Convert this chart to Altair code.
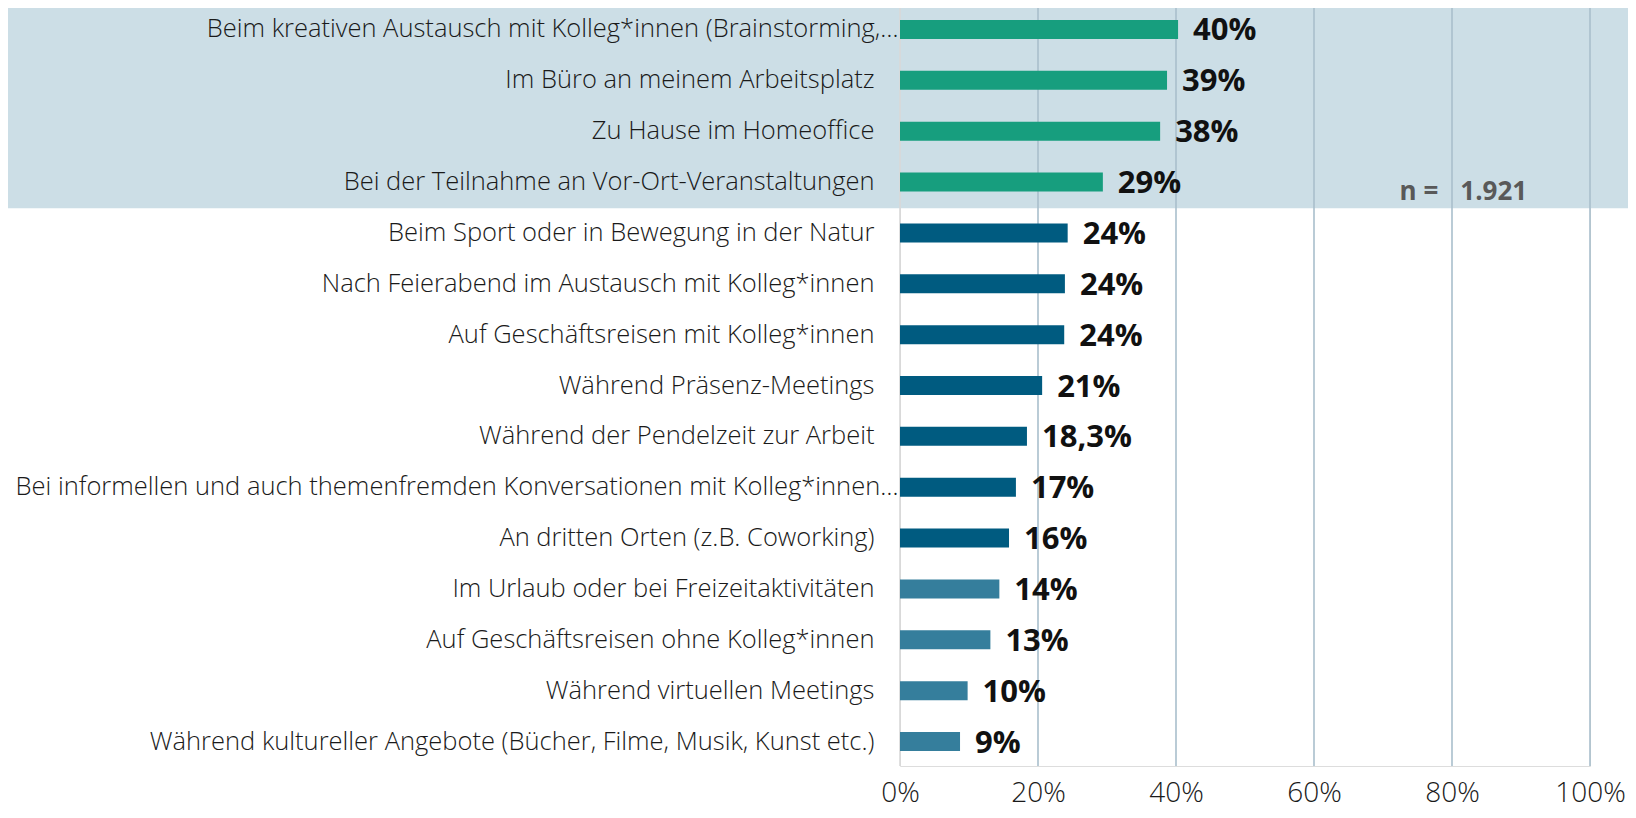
import altair as alt
import pandas as pd

categories = [
    "Beim kreativen Austausch mit Kolleg*innen (Brainstorming,…",
    "Im Büro an meinem Arbeitsplatz",
    "Zu Hause im Homeoffice",
    "Bei der Teilnahme an Vor-Ort-Veranstaltungen",
    "Beim Sport oder in Bewegung in der Natur",
    "Nach Feierabend im Austausch mit Kolleg*innen",
    "Auf Geschäftsreisen mit Kolleg*innen",
    "Während Präsenz-Meetings",
    "Während der Pendelzeit zur Arbeit",
    "Bei informellen und auch themenfremden Konversationen mit Kolleg*innen…",
    "An dritten Orten (z.B. Coworking)",
    "Im Urlaub oder bei Freizeitaktivitäten",
    "Auf Geschäftsreisen ohne Kolleg*innen",
    "Während virtuellen Meetings",
    "Während kultureller Angebote (Bücher, Filme, Musik, Kunst etc.)",
]
values = [40.3, 38.7, 37.7, 29.4, 24.3, 23.9, 23.8, 20.6, 18.4, 16.8, 15.8, 14.4, 13.1, 9.8, 8.7]
value_labels = ["40%", "39%", "38%", "29%", "24%", "24%", "24%", "21%", "18,3%",
                "17%", "16%", "14%", "13%", "10%", "9%"]
groups = ["top"] * 4 + ["mid"] * 7 + ["low"] * 4
highlight = categories[:4]
grid_values = [20, 40, 60, 80, 100]
tick_values = [0, 20, 40, 60, 80, 100]
n_label = "n ="
n_value = "1.921"

group_colors = {"top": "#179E7E", "mid": "#005B80", "low": "#357E9C"}
BG = "#CCDEE6"

df = pd.DataFrame({"cat": categories, "val": values, "lab": value_labels, "grp": groups})
bg_df = pd.DataFrame({"cat": highlight})
grid_df = pd.DataFrame({"g": grid_values})
zero_df = pd.DataFrame({"g": [0]})
n_df = pd.DataFrame({"cat": [categories[3], categories[3]],
                     "x": [72.4, 81.2], "t": [n_label, n_value]})

FONT = "Open Sans"

y_scale = alt.Scale(domain=categories, range=[-4, 759], paddingInner=0, paddingOuter=0)
x_scale = alt.Scale(domain=[0, 100], nice=False)

y_axis = alt.Axis(title=None, ticks=False, domain=False, labelFont=FONT,
                  labelFontSize=25.5, labelFontWeight=300, labelColor="#1a1a1a",
                  labelPadding=alt.expr("indexof(datum.value, '…') >= 0 ? 2 : 26"),
                  labelLimit=1000, grid=False)
x_axis = alt.Axis(title=None, values=tick_values, labelExpr="datum.value + '%'",
                  ticks=False, domain=False, grid=False, labelFont=FONT,
                  labelFontSize=28, labelFontWeight=300, labelColor="#1a1a1a",
                  labelPadding=13, labelFlush=False)

bg = alt.Chart(bg_df).mark_rect(color=BG, stroke=BG, strokeWidth=1.5).encode(
    y=alt.Y("cat:N", scale=y_scale, sort=categories, axis=y_axis),
    x=alt.datum(-140, scale=x_scale, axis=x_axis),
    x2=alt.datum(110),
)

zero_rule = alt.Chart(zero_df).mark_rule(color="#D9D9D9", strokeWidth=1.6).encode(
    x=alt.X("g:Q", scale=x_scale),
)
grid_rules = alt.Chart(grid_df).mark_rule(color="#A9BFCC", strokeWidth=1.6).encode(
    x=alt.X("g:Q", scale=x_scale),
)

bars = alt.Chart(df).mark_bar(size=19).encode(
    y=alt.Y("cat:N", scale=y_scale, sort=categories),
    x=alt.X("val:Q", scale=x_scale),
    color=alt.Color("grp:N", scale=alt.Scale(domain=list(group_colors.keys()),
                                             range=list(group_colors.values())),
                    legend=None),
)

texts = alt.Chart(df).mark_text(align="left", baseline="middle", dx=15, dy=2,
                                font=FONT, fontSize=31, fontWeight="bold",
                                color="#111111").encode(
    y=alt.Y("cat:N", scale=y_scale, sort=categories),
    x=alt.X("val:Q", scale=x_scale),
    text="lab:N",
)

ntext = alt.Chart(n_df).mark_text(align="left", baseline="middle", dy=10,
                                  font=FONT, fontSize=26, fontWeight="bold",
                                  color="#595959").encode(
    y=alt.Y("cat:N", scale=y_scale, sort=categories),
    x=alt.X("x:Q", scale=x_scale),
    text="t:N",
)

chart = alt.layer(bg, zero_rule, grid_rules, bars, texts, ntext).properties(
    width=690, height=758,
    autosize=alt.AutoSizeParams(type="none"),
    padding={"left": 892, "right": 38, "top": 0, "bottom": 44},
).configure_view(stroke=None).configure(background="white")

chart.save("out.html", embed_options={"renderer": "svg", "actions": False})
